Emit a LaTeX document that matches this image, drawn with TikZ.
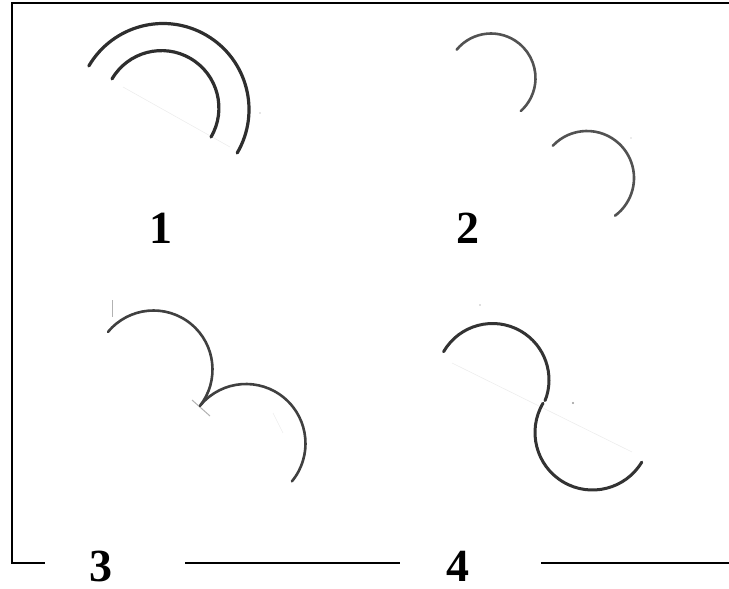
\documentclass[tikz,border=0pt]{standalone}
\usepackage{fontspec}
\setmainfont{Liberation Serif}
\begin{document}
\begin{tikzpicture}[x=1pt,y=-1pt,
  frame/.style={line width=1.8pt,black},
  arcA/.style={line width=3.2pt,color=black!82,line cap=round},
  arcB/.style={line width=2.6pt,color=black!68,line cap=round},
  arcC/.style={line width=2.6pt,color=black!75,line cap=round},
  arcD/.style={line width=3pt,color=black!80,line cap=round},
  faint/.style={line width=0.6pt,color=black!7},
  tick/.style={line width=1pt,color=black!30},
  lbl/.style={inner sep=0pt,font=\bfseries\fontsize{46}{46}\selectfont}]
\useasboundingbox (0,0) rectangle (729,589);
% frame
\draw[frame] (729,3) -- (12,3) -- (12,563) -- (45,563);
\draw[frame] (185,563) -- (400,563);
\draw[frame] (541,563) -- (729,563);
% labels
\node[lbl] (l1) at (161,228) {1};
\node[lbl] (l2) at (468,228) {2};
\node[lbl] (l3) at (101,566) {3};
\node[lbl] (l4) at (458,566) {4};
% panel 1
\draw[faint] (123,87) -- (230,147);
\fill[black!20] (260,113) circle (0.8);
\draw[arcA] (163,109.5) ++(-149.6:86) arc[start angle=-149.6,end angle=30.4,radius=86];
\draw[arcA] (161.5,108) ++(-149.6:57.4) arc[start angle=-149.6,end angle=30.4,radius=57.4];
% panel 2
\draw[arcB] (491,78) ++(-140.5:44.5) arc[start angle=-140.5,end angle=47.8,radius=44.5];
\draw[arcB] (587,178) ++(-136.6:47) arc[start angle=-136.6,end angle=53.4,radius=47];
\fill[black!15] (631,138) circle (0.8);
% panel 3
\draw[tick] (112,300) -- (112,317);
\draw[tick] (192,400) -- (210,416);
\draw[faint] (273,413) -- (283,433);
\draw[arcC] (153.5,369.5) ++(-140.4:59) arc[start angle=-140.4,end angle=38.2,radius=59];
\draw[arcC] (246,443.5) ++(-139.5:59.5) arc[start angle=-139.5,end angle=39.5,radius=59.5];
% panel 4
\draw[faint] (452,363) -- (632,452);
\fill[black!25] (480,305) circle (0.9);
\fill[black!40] (573,403) circle (1.1);
\draw[arcD] (492.5,380) ++(-150:56.5) arc[start angle=-150,end angle=21.4,radius=56.5];
\draw[arcD] (592.5,432.5) ++(-149.4:57.5) arc[start angle=-149.4,end angle=-329,radius=57.5];
\end{tikzpicture}
\end{document}
